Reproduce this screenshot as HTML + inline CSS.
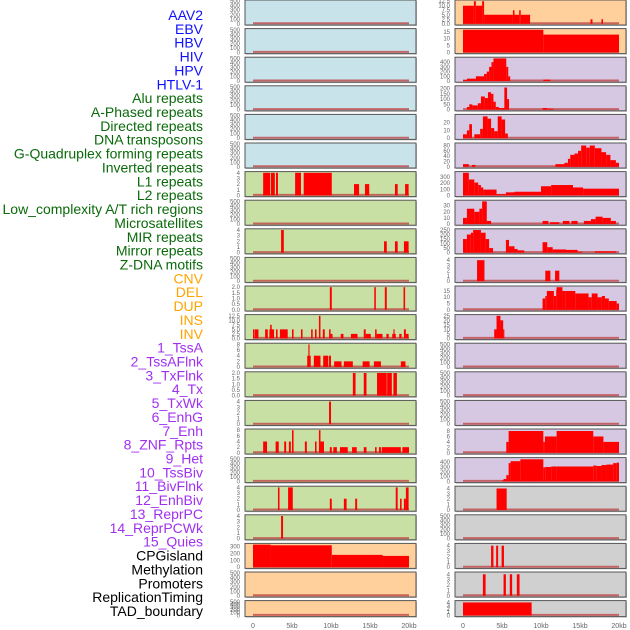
<!DOCTYPE html>
<html><head><meta charset="utf-8"><style>
html,body{margin:0;padding:0;background:#fff;width:630px;height:630px;overflow:hidden}
svg{display:block;font-family:"Liberation Sans",sans-serif}
</style></head><body>
<svg id="chart" width="630" height="630" viewBox="0 0 630 630" xmlns="http://www.w3.org/2000/svg"></svg>
<script>
const trackLabels=["AAV2","EBV","HBV","HIV","HPV","HTLV-1","Alu repeats","A-Phased repeats","Directed repeats","DNA transposons","G-Quadruplex forming repeats","Inverted repeats","L1 repeats","L2 repeats","Low_complexity A/T rich regions","Microsatellites","MIR repeats","Mirror repeats","Z-DNA motifs","CNV","DEL","DUP","INS","INV","1_TssA","2_TssAFlnk","3_TxFlnk","4_Tx","5_TxWk","6_EnhG","7_Enh","8_ZNF_Rpts","9_Het","10_TssBiv","11_BivFlnk","12_EnhBiv","13_ReprPC","14_ReprPCWk","15_Quies","CPGisland","Methylation","Promoters","ReplicationTiming","TAD_boundary"];
const labelGroups=[6,13,5,15,5];
const groupColors=["#1010ff","#0a6a0a","#ffa500","#a030f0","#000000"];
const xTicks=[0,5,10,15,20];
const xTickLabels=["0","5kb","10kb","15kb","20kb"];
const leftBg=["b","b","b","b","b","b","g","g","g","g","g","g","g","g","g","g","g","g","g","o","o","o"];
const rightBg=["o","o","p","p","p","p","p","p","p","p","p","p","p","p","p","p","p","y","y","y","y","y"];
const E=[0,100,200,300,400,500];
const leftTicks=[E,E,E,E,E,E,[0,1,2,3,4],E,[0,1,2,3,4],E,[0,0.5,1,1.5,2],[0,2.5,5,7.5,10,12.5],[0,2,4,6,8],[0,0.5,1,1.5,2],[0,1,2,3,4],[0,2,4,6,8],E,[0,1,2,3,4],[0,1,2,3,4],[0,100,200,300],E,E];
const leftMax=[500,500,500,500,500,500,4,500,4,500,2,12.5,8,2,4,8,500,4,4,330,500,500];
const leftSegs=[[],[],[],[],[],[],
[[1.3,2.2,4],[2.3,2.8,4],[2.95,3.2,4],[5.4,6.15,4],[6.5,10.1,4],[12.95,13.6,2],[14.35,14.9,2],[18.2,18.55,2],[19.5,19.95,2]],
[],
[[3.6,3.95,4],[16.8,17.15,2],[18.2,18.55,2],[19.35,19.95,2]],
[],
[[9.85,10.1,2],[15.55,15.75,2],[16.9,17.15,2],[19.3,19.5,2]],
[[0,0.2,5],[0.25,0.7,5],[1.55,1.9,5],[2.1,2.7,5],[2.2,2.4,7.5],[2.95,3.15,5],[3.45,4.45,5],[5.0,5.2,5],[6.15,6.35,5],[7.45,7.65,5],[7.95,8.15,5],[8.45,8.65,12.5],[8.95,9.2,5],[9.75,9.95,5],[9.95,10.2,2.5],[11.25,11.6,2.5],[12.55,13.4,2.5],[14.2,14.45,5],[14.45,15.1,2.5],[15.65,15.85,5],[15.85,16.6,2.5],[17.1,17.4,2.5],[17.85,18.3,2.5],[18.0,18.15,5],[18.75,19.05,2.5],[19.35,19.6,5],[19.6,19.95,2.5]],
[[6.95,7.4,4],[7.1,7.25,8],[7.8,8.65,4],[9.0,9.65,4],[9.75,10,4],[10.4,11.35,2],[11.65,12.8,2],[14.05,14.95,2],[15.5,16.4,2],[18.95,19.55,2]],
[[12.8,13.15,2],[14.2,14.55,2],[15.9,17.15,2],[17.2,17.8,2],[18.0,18.45,2]],
[[9.75,10,4]],
[[1.3,1.8,4],[2.9,3.3,4],[4.0,4.25,4],[4.6,4.85,4],[5.0,5.2,8],[6.65,6.9,4],[7.95,8.15,4],[8.45,8.65,8],[8.65,9.1,4],[9.85,10.1,2],[10.3,10.75,2],[11.15,12.15,2],[12.7,13.3,2],[14.2,14.55,2],[15.65,15.85,2],[16.15,16.4,2],[16.5,18.95,2],[19.15,20,2]],
[],
[[3.2,3.4,4],[4.5,5.1,4],[9.85,10.1,2],[11.65,12,2],[13.1,13.35,2],[18.3,18.55,4],[18.85,19.05,2],[19.35,19.6,2],[19.6,19.95,4]],
[[3.6,3.85,4]],
[[0,2.25,330],[2.25,10.1,320],[10.1,16.6,180],[16.6,20,165]],
[],[]];
const rightTicks=[[0,2.5,5,7.5,10,12.5],[0,5,10,15],[0,100,200,300,400],[0,50,100,150,200],[0,10,20],[0,20,40,60,80],[0,100,200,300],[0,10,20,30],[0,50,100,150,200,250],[0,1,2,3,4],[0,5,10,15],[0,5,10,15,20,25],E,E,E,[0,2,4,6,8],[0,100,200,300,400],[0,1,2,3,4],E,[0,1,2,3,4],[0,1,2,3,4],[0,1,2,3,4]];
const rightMax=[12.5,16.5,480,215,29,85,370,37,250,4.3,18,25,500,500,500,8.3,470,4.2,500,4.2,4.2,4.2];
const rightSegs=[
[[0,1.4,10],[1.4,1.65,12.5],[1.65,2.45,10],[2.45,2.7,12.5],[2.7,6.4,5],[6.4,6.6,7.5],[6.6,7.2,5],[7.2,7.4,7.5],[7.4,8.6,5],[16.35,16.6,2.5],[17.75,17.95,2.5]],
[[0,10.3,16.5],[10.3,20,13]],
[[0,0.5,20],[0.5,1.65,50],[1.65,2.7,100],[2.7,3.05,150],[3.05,3.35,200],[3.35,3.65,300],[3.65,3.9,400],[3.9,5.55,480],[5.55,5.8,300],[5.8,6.05,100],[10.3,11.2,30]],
[[0.5,0.8,25],[0.8,1.2,50],[1.2,1.9,40],[1.9,2.3,60],[2.3,2.8,125],[2.8,3.2,110],[3.2,3.6,165],[3.6,3.9,150],[3.9,4.2,75],[4.2,4.6,25],[4.6,5.3,15],[5.3,5.65,210],[5.65,5.9,100],[10.2,10.8,15],[10.8,11.6,8]],
[[0,0.5,5],[0.5,0.8,10],[0.8,1.15,18],[1.45,2.2,5],[2.2,2.55,12],[2.55,3.15,28],[3.15,3.6,25],[3.6,4.0,13],[4.0,4.45,9],[4.45,4.95,28],[4.95,5.4,24],[5.4,5.75,6]],
[[0,0.75,10],[1.15,1.6,7],[11.85,13.0,10],[13.0,13.45,15],[13.45,13.75,30],[13.75,14.3,45],[14.3,14.75,50],[14.75,15.15,60],[15.15,15.8,80],[15.8,16.25,72],[16.25,16.9,80],[16.9,17.75,70],[17.75,18.35,55],[18.35,18.9,45],[18.9,19.6,25],[19.6,20,15]],
[[0,0.75,370],[0.75,1.45,260],[1.45,1.95,210],[1.95,2.3,170],[2.3,2.6,130],[2.6,4.3,95],[4.3,5.5,20],[5.5,6.6,50],[6.6,10,60],[10,11.3,150],[11.3,14.1,170],[14.1,15.4,130],[15.4,20,110]],
[[0,0.5,10],[0.5,1.45,25],[1.45,2.1,20],[2.1,2.45,25],[2.45,3.05,37],[3.05,3.6,5],[10.2,10.95,5],[11.15,12.35,3],[12.8,13.65,5],[13.9,14.7,5],[15.5,16.4,5],[16.4,17.0,8],[17.0,17.9,12],[17.9,18.95,10],[18.95,19.6,5]],
[[0,0.5,150],[0.5,1.0,200],[1.0,1.3,220],[1.3,2.3,250],[2.3,2.9,220],[2.9,3.35,150],[3.35,3.85,50],[5.5,5.9,140],[5.9,6.6,70],[6.6,7.0,40],[7.0,7.85,25],[10.2,10.8,115],[10.8,11.5,60],[11.5,13.2,35],[13.2,14.7,30],[14.7,15.3,10],[16.9,19.6,15]],
[[1.8,2.75,4],[10.55,11.2,2],[11.8,12.35,2]],
[[10.2,10.55,9],[10.55,10.75,11],[10.75,11.65,15],[11.65,11.95,11],[11.95,12.0,16],[12.0,12.75,18],[12.75,13.1,15],[13.1,14.4,15],[14.4,16.1,13],[16.1,16.5,10],[16.5,17.25,13],[17.25,17.8,10],[17.8,18.2,11],[18.2,18.7,9],[18.7,19.7,7],[19.7,20,5]],
[[4.0,4.3,10],[4.3,4.8,25],[4.8,5.15,20],[5.15,5.3,10]],
[],[],[],
[[5.55,5.85,4],[5.85,10.3,8],[10.3,10.5,4],[10.5,12.0,6],[12.0,16.7,8],[16.7,18.0,6],[18.0,20,4]],
[[5.0,5.2,20],[5.2,5.55,50],[5.55,5.85,130],[5.85,6.1,380],[6.1,7.35,420],[7.35,10.3,460],[10.3,10.55,290],[10.55,11.3,300],[11.3,12.0,310],[12.0,16.7,310],[16.7,17.1,330],[17.1,17.75,320],[17.75,18.4,340],[18.4,19.25,350],[19.25,19.7,380],[19.7,20,390]],
[[4.3,5.6,4]],
[],
[[3.6,3.9,4],[4.25,4.5,4],[4.95,5.25,4]],
[[2.55,2.9,4],[5.2,5.5,4],[6.0,6.3,4],[6.9,7.25,4]],
[[0,8.8,4]]];

const bgColors={b:"#c8e3ea",g:"#c9e0a4",o:"#ffd09c",p:"#d6c7e2",y:"#d0d0d0"};
const NS="http://www.w3.org/2000/svg";
const svg=document.getElementById("chart");
function mk(tag,attrs,parent){const e=document.createElementNS(NS,tag);for(const k in attrs)e.setAttribute(k,attrs[k]);(parent||svg).appendChild(e);return e;}
const cols=[{x0:245,x1:416,zero:253,tickX:240,bg:leftBg,ticks:leftTicks,max:leftMax,segs:leftSegs,side:"left"},
            {x0:455,x1:626,zero:463,tickX:450,bg:rightBg,ticks:rightTicks,max:rightMax,segs:rightSegs,side:"right"}];
const KB=7.8;
function rowTop(i){return i*28.6;}
function rowH(i){return i===21?16:25;}
function fmt(arr,v){return arr.some(a=>a%1!==0)?v.toFixed(1):String(v);}

let li=0;
labelGroups.forEach((n,g)=>{for(let k=0;k<n;k++){const t=mk("text",{x:203,y:20+li*13.86,"text-anchor":"end","font-size":"14",fill:groupColors[g]});


t.textContent=trackLabels[li];li++;}});

cols.forEach(c=>{
  const xs=kb=>c.zero+kb*KB;
  for(let i=0;i<22;i++){
    const top=rowTop(i),h=rowH(i),bot=top+h;
    const ys=v=>bot-1.2-v/c.max[i]*(h-2.4);
    const g=mk("g",{});
    
    
    mk("rect",{x:c.x0+1,y:top+1,width:c.x1-c.x0,height:h,fill:"#999",opacity:0.6},g);
    mk("rect",{x:c.x0,y:top,width:c.x1-c.x0,height:h,fill:bgColors[c.bg[i]],stroke:"#555","stroke-width":1},g);
    c.ticks[i].forEach(tv=>{const t=mk("text",{x:c.tickX,y:ys(tv)+2,"text-anchor":"end","font-size":"6",fill:"#666"},g);
      
      
      t.textContent=fmt(c.ticks[i],tv);});
    mk("line",{x1:xs(0),x2:xs(20),y1:ys(0)-0.5,y2:ys(0)-0.5,stroke:"#c04848","stroke-width":2,opacity:0.8},g);
    c.segs[i].forEach(s=>{const r=mk("rect",{x:xs(s[0]),y:ys(s[2]),width:Math.max(0.8,(s[1]-s[0])*KB),height:ys(0)-ys(s[2]),fill:"#ff0000"},g);
      
      });
  }
  xTicks.forEach((v,k)=>{const t=mk("text",{x:xs(v),y:628,"text-anchor":"middle","font-size":"7",fill:"#666"});
    
    
    t.textContent=xTickLabels[k];});
});
</script>
</body></html>
